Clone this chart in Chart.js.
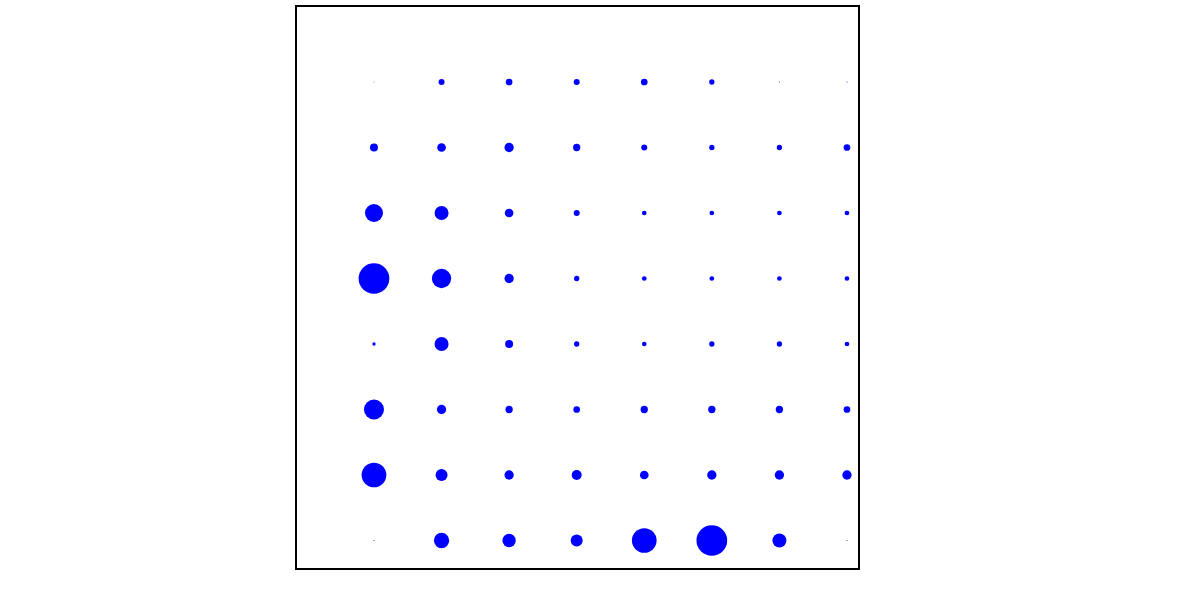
<!DOCTYPE html>
<html>
<head>
<meta charset="utf-8">
<script src="https://cdn.jsdelivr.net/npm/chart.js@4/dist/chart.umd.min.js"></script>
<style>
    html, body { margin: 0; padding: 0; background: #fff; }
    #wrap { width: 1196px; height: 601px; position: relative; }
</style>
</head>
<body>
<div id="wrap"><canvas id="grid"></canvas></div>
<script>
// Matrix values, one array per row (top to bottom)
const columns = [0, 1, 2, 3, 4, 5, 6, 7];
const row0 = [0.6, 6.0, 6.7, 6.0, 6.7, 5.3, 1.0, 1.0];
const row1 = [8.0, 8.7, 9.3, 7.3, 6.0, 5.3, 5.3, 6.7];
const row2 = [18.0, 14.0, 8.7, 6.0, 4.7, 4.7, 4.7, 4.7];
const row3 = [30.7, 19.3, 9.3, 5.3, 4.7, 4.7, 4.7, 4.7];
const row4 = [3.3, 14.0, 8.0, 5.3, 4.7, 5.3, 5.3, 4.7];
const row5 = [20.0, 9.3, 7.3, 6.7, 7.3, 7.3, 7.3, 6.7];
const row6 = [24.7, 12.0, 9.3, 10.0, 8.7, 9.3, 9.3, 9.3];
const row7 = [1.0, 15.3, 13.3, 12.0, 24.7, 30.7, 14.0, 1.0];
const rows = [row0, row1, row2, row3, row4, row5, row6, row7];

// value -> marker radius in px
const toRadius = (v) => Math.max(v / 2, 0.4);

const points = [];
rows.forEach((row, r) => {
    row.forEach((v, c) => {
        points.push({ x: columns[c], y: r, r: toRadius(v) });
    });
});

// plain black frame round the plot area
const frame = {
    id: 'frame',
    afterDraw(chart) {
        const { ctx, chartArea: a } = chart;
        ctx.save();
        ctx.strokeStyle = '#000';
        ctx.lineWidth = 2;
        ctx.strokeRect(a.left, a.top, a.right - a.left, a.bottom - a.top);
        ctx.restore();
    }
};

new Chart(document.getElementById('grid'), {
    type: 'bubble',
    data: {
        datasets: [{
            data: points,
            backgroundColor: '#0000ff',
            borderWidth: 0,
            hoverBorderWidth: 0
        }]
    },
    options: {
        responsive: true,
        maintainAspectRatio: false,
        animation: false,
        layout: { autoPadding: false, padding: { left: 296, right: 337, top: 6, bottom: 32 } },
        plugins: {
            legend: { display: false },
            tooltip: { enabled: false }
        },
        scales: {
            x: { type: 'linear', min: -1.154, max: 7.178, display: false },
            y: { type: 'linear', min: -1.16, max: 7.435, reverse: true, display: false }
        }
    },
    plugins: [frame]
});
</script>
</body>
</html>
